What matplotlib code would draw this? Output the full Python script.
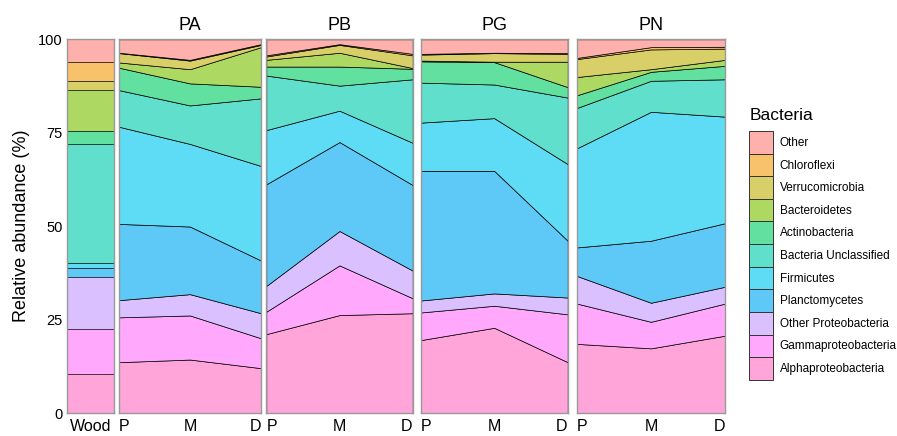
import matplotlib.pyplot as plt
from matplotlib.patches import Patch
import numpy as np

plt.rcParams['font.family'] = ['Liberation Sans', 'DejaVu Sans']

# stacking order: bottom -> top
categories = ["Alphaproteobacteria", "Gammaproteobacteria", "Other Proteobacteria",
              "Planctomycetes", "Firmicutes", "Bacteria Unclassified", "Actinobacteria",
              "Bacteroidetes", "Verrucomicrobia", "Chloroflexi", "Other"]
# translucent ggplot hues as they appear on white
colors = ["#FFA5DA", "#FFA8FC", "#DAC0FF", "#5EC8F6", "#5EDCF5", "#60E0CC",
          "#62E0A0", "#ADD862", "#D9CF68", "#F8C26A", "#FDB0AC"]

stages = ["P", "M", "D"]
sites = ["PA", "PB", "PG", "PN"]

wood = [10.4, 12.1, 13.8, 2.4, 1.5, 31.7, 3.6, 10.9, 2.4, 5.1, 6.1]

# rows = P, M, D ; columns follow categories
pa = [[13.6, 12.0, 4.6, 20.4, 26.0, 9.8, 6.0, 1.4, 2.5, 0.1, 3.6],
      [14.3, 11.8, 5.7, 18.1, 22.1, 10.3, 5.9, 3.8, 2.3, 0.2, 5.5],
      [12.0, 8.0, 6.7, 14.1, 25.3, 18.1, 3.1, 10.6, 0.6, 0.2, 1.3]]
pb = [[21.1, 6.0, 6.9, 27.2, 14.5, 14.6, 2.4, 1.8, 0.9, 0.3, 4.3],
      [26.2, 13.3, 9.2, 23.8, 8.4, 6.7, 5.1, 3.7, 2.1, 0.2, 1.3],
      [26.7, 4.0, 7.4, 22.9, 11.3, 17.0, 2.8, 0.2, 3.4, 0.4, 3.9]]
pg = [[19.5, 7.4, 3.2, 34.7, 12.9, 10.7, 5.7, 0.2, 1.6, 0.2, 3.9],
      [22.8, 5.9, 3.3, 32.8, 14.1, 9.0, 6.0, 0.1, 2.3, 0.1, 3.6],
      [13.6, 12.8, 4.5, 15.2, 20.5, 17.8, 2.8, 6.8, 2.1, 0.2, 3.7]]
pn = [[18.5, 10.8, 7.4, 7.6, 26.5, 10.8, 3.4, 4.9, 4.8, 0.3, 5.0],
      [17.3, 7.1, 5.1, 16.6, 34.5, 8.3, 2.4, 0.7, 5.3, 0.6, 2.1],
      [20.7, 8.6, 4.5, 17.0, 28.5, 10.0, 3.6, 1.6, 3.0, 0.5, 2.0]]
site_data = [pa, pb, pg, pn]

W, H = 897, 436
fig = plt.figure(figsize=(W / 100, H / 100), dpi=100)

bottom = 1 - 413 / H
height = (413 - 39.3) / H
panels_px = [(66.7, 114.3), (119, 261), (266.3, 412.7), (420.7, 567.7), (576.7, 725.3)]
axes = [fig.add_axes([l / W, bottom, (r - l) / W, height]) for l, r in panels_px]


def style(ax):
    ax.set_ylim(0, 100)
    ax.set_yticks([0, 25, 50, 75, 100])
    # faint grid showing through the fills
    ax.grid(True, color="#808080", alpha=0.12, lw=0.8, zorder=4)
    for s in ax.spines.values():
        s.set_color("#999999")
        s.set_linewidth(1.0)
        s.set_zorder(5)
    ax.tick_params(length=0, labelsize=11.5, pad=4)
    ax.tick_params(axis="y", labelsize=10.5, pad=3)


# Wood panel: one stacked bar
ax = axes[0]
style(ax)
base = 0
for v, c in zip(wood, colors):
    ax.bar(0, v, bottom=base, width=1.0, color=c, edgecolor="none", zorder=2)
    base += v
    if base < 99.9:
        ax.axhline(base, color="black", lw=0.5, zorder=3)
ax.set_xlim(-0.5, 0.5)
ax.set_xticks([0])
ax.set_xticklabels(["Wood"])
ax.set_ylabel("Relative abundance (%)", fontsize=13, labelpad=6)

x = np.arange(len(stages))
for ax, name, d in zip(axes[1:], sites, site_data):
    style(ax)
    ys = np.array(d).T
    ax.stackplot(x, ys, colors=colors, edgecolor="black", linewidth=0.5, zorder=2)
    ax.set_xlim(0, 2)
    ax.set_xticks(x)
    ax.set_xticklabels(stages)
    labels = ax.get_xticklabels()
    labels[0].set_ha("left")
    labels[-1].set_ha("right")
    ax.set_yticklabels([])
    ax.set_title(name, fontsize=13, pad=7)

fig.text(750 / W, 1 - 115 / H, "Bacteria", fontsize=12.5, ha="left", va="center")
handles = [Patch(facecolor=c, edgecolor="#333333", linewidth=0.7) for c in colors][::-1]
fig.legend(handles, categories[::-1], loc="upper left",
           bbox_to_anchor=(749 / W, 1 - 131 / H), frameon=False, fontsize=8.5,
           handlelength=2.0, handleheight=2.57, labelspacing=0.0,
           handletextpad=0.6, borderpad=0, borderaxespad=0)

plt.savefig("out.png", dpi=100)
